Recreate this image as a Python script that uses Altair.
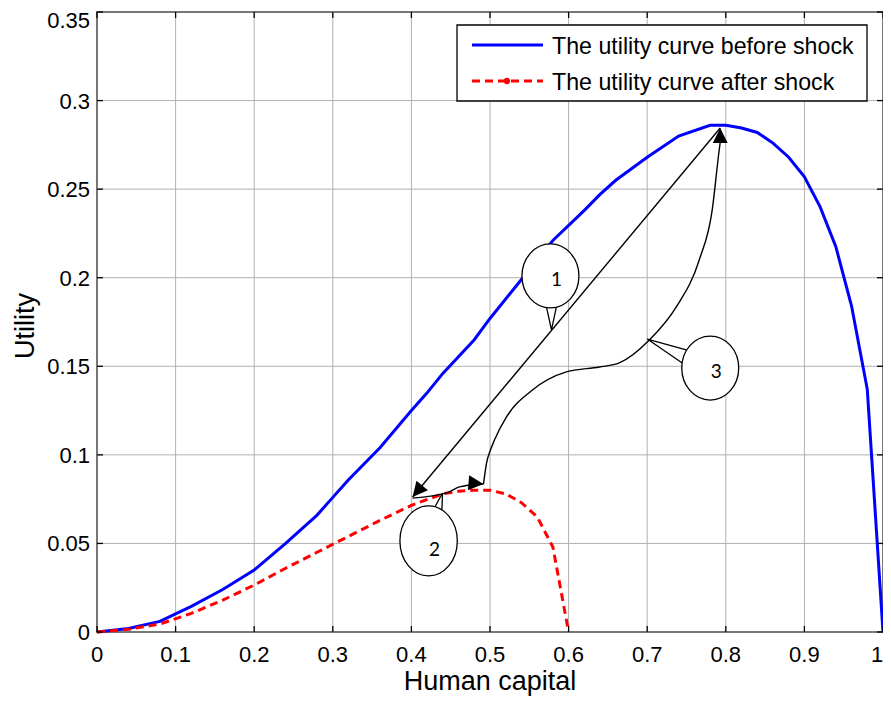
import altair as alt
import pandas as pd

# ---------------- data ----------------
blue_x = [0.0, 0.04, 0.08, 0.12, 0.16, 0.20, 0.24, 0.28, 0.30, 0.32, 0.36, 0.40, 0.42, 0.44, 0.48,
          0.50, 0.54, 0.58, 0.62, 0.64, 0.66, 0.70, 0.74, 0.78, 0.80, 0.82, 0.84, 0.86, 0.88, 0.90,
          0.92, 0.94, 0.96, 0.98, 1.00]
blue_y = [0.0, 0.002, 0.006, 0.0145, 0.024, 0.035, 0.050, 0.066, 0.076, 0.086, 0.104, 0.125, 0.135,
          0.146, 0.165, 0.177, 0.199, 0.221, 0.238, 0.247, 0.255, 0.268, 0.280, 0.286, 0.286, 0.2845,
          0.282, 0.276, 0.268, 0.257, 0.240, 0.2175, 0.184, 0.137, 0.0]

red_x = [0.0, 0.04, 0.08, 0.12, 0.16, 0.20, 0.24, 0.28, 0.32, 0.36, 0.40, 0.44, 0.46, 0.48, 0.50,
         0.52, 0.54, 0.56, 0.58, 0.60]
red_y = [0.0, 0.0015, 0.0045, 0.0105, 0.018, 0.0265, 0.036, 0.045, 0.054, 0.063, 0.0715, 0.078,
         0.0795, 0.080, 0.080, 0.078, 0.073, 0.065, 0.048, 0.0]

x_ticks = [0, 0.1, 0.2, 0.3, 0.4, 0.5, 0.6, 0.7, 0.8, 0.9, 1.0]
x_tick_labels = ["0", "0.1", "0.2", "0.3", "0.4", "0.5", "0.6", "0.7", "0.8", "0.9", "1"]
y_ticks = [0, 0.05, 0.1, 0.15, 0.2, 0.25, 0.3, 0.35]
y_tick_labels = ["0", "0.05", "0.1", "0.15", "0.2", "0.25", "0.3", "0.35"]

legend_labels = ["The utility curve before shock", "The utility curve after shock"]
x_title = "Human capital"
y_title = "Utility"

# annotation paths (data coordinates)
arrow1_x = [0.4015, 0.7929]
arrow1_y = [0.0762, 0.2845]
curve2_x = [0.4015, 0.4447, 0.4612, 0.4740, 0.4917]
curve2_y = [0.0756, 0.0785, 0.0819, 0.0830, 0.0835]
curve3_x = [0.4917, 0.4956, 0.5006, 0.5057, 0.5210, 0.5540, 0.5972, 0.6391, 0.6645, 0.7027,
            0.7370, 0.7662, 0.7827, 0.7916, 0.7942]
curve3_y = [0.0835, 0.0954, 0.1027, 0.1084, 0.1214, 0.1366, 0.1468, 0.1496, 0.1519, 0.1648,
            0.1835, 0.2100, 0.2382, 0.2721, 0.2806]

head_x = [0.7929, 0.4015, 0.4917]
head_y = [0.2845, 0.0762, 0.0835]
head_angle = [0, 220, 95]

callout_text = ["1", "2", "3"]
callout_cx = [0.5769, 0.4219, 0.7802]
callout_cy = [0.2010, 0.0514, 0.1490]
callout_tx = [0.5845, 0.4295, 0.7878]
callout_ty = [0.1987, 0.0463, 0.1468]
tail_x = [[0.5718, 0.5782, 0.5845], [0.4257, 0.4396, 0.4384], [0.7497, 0.7001, 0.7446]]
tail_y = [[0.1835, 0.1705, 0.1835], [0.0672, 0.0785, 0.0644], [0.1592, 0.1654, 0.1519]]

# ---------------- tables ----------------
blue_df = pd.DataFrame({"x": blue_x, "y": blue_y, "i": range(len(blue_x))})
red_df = pd.DataFrame({"x": red_x, "y": red_y, "i": range(len(red_x))})

straight_df = pd.DataFrame({"id": "a1", "i": range(len(arrow1_x)), "x": arrow1_x, "y": arrow1_y})
rows = []
for name, xs_, ys_ in [("c2", curve2_x, curve2_y), ("c3", curve3_x, curve3_y)]:
    for k, (a, b) in enumerate(zip(xs_, ys_)):
        rows.append({"id": name, "i": k, "x": a, "y": b})
curved_df = pd.DataFrame(rows)

head_df = pd.DataFrame({"x": head_x, "y": head_y, "ang": head_angle})

tail_rows = []
for t, (txs, tys) in enumerate(zip(tail_x, tail_y)):
    for k, (a, b) in enumerate(zip(txs, tys)):
        tail_rows.append({"id": t, "i": k, "x": a, "y": b})
tail_df = pd.DataFrame(tail_rows)

call_df = pd.DataFrame({"cx": callout_cx, "cy": callout_cy, "tx": callout_tx, "ty": callout_ty,
                        "t": callout_text, "big": [0, 1, 0]})

xt_df = pd.DataFrame({"v": x_ticks, "lab": x_tick_labels})
yt_df = pd.DataFrame({"v": y_ticks, "lab": y_tick_labels})

W, H = 786, 620
FONT = "Liberation Sans"
GRID = "#b0b0b0"

xs = alt.Scale(domain=[0, 1], nice=False, zero=False)
ys = alt.Scale(domain=[0, 0.35], nice=False, zero=False)

X = lambda f: alt.X(f, scale=xs, axis=None)
Y = lambda f: alt.Y(f, scale=ys, axis=None)

# grid
grid_x = alt.Chart(xt_df).mark_rule(color=GRID, strokeWidth=1).encode(
    x=X("v:Q"), y=alt.value(0), y2=alt.value(H))
grid_y = alt.Chart(yt_df).mark_rule(color=GRID, strokeWidth=1).encode(
    y=Y("v:Q"), x=alt.value(0), x2=alt.value(W))

# tick labels (placed through the scales)
xlab = alt.Chart(xt_df).transform_filter("datum.v < 0.99").mark_text(
    font=FONT, fontSize=22, color="black", align="center", baseline="alphabetic").encode(
    x=X("v:Q"), y=alt.value(H + 30), text="lab:N")
xlab_end = alt.Chart(xt_df).transform_filter("datum.v > 0.99").mark_text(
    font=FONT, fontSize=22, color="black", align="center", baseline="alphabetic", dx=-6).encode(
    x=X("v:Q"), y=alt.value(H + 30), text="lab:N")
ylab = alt.Chart(yt_df).transform_filter("datum.v < 0.34").mark_text(
    font=FONT, fontSize=22, color="black", align="right", baseline="alphabetic", dy=8).encode(
    y=Y("v:Q"), x=alt.value(-7), text="lab:N")
ylab_top = alt.Chart(yt_df).transform_filter("datum.v > 0.34").mark_text(
    font=FONT, fontSize=22, color="black", align="right", baseline="alphabetic", dy=16).encode(
    y=Y("v:Q"), x=alt.value(-7), text="lab:N")

one = pd.DataFrame({"k": [0]})
xtitle = alt.Chart(one).mark_text(font=FONT, fontSize=27, color="black", align="center",
                                  baseline="alphabetic", text=x_title).encode(
    x=alt.value(W / 2), y=alt.value(H + 58))
ytitle = alt.Chart(one).mark_text(font=FONT, fontSize=27, color="black", align="center",
                                  baseline="alphabetic", angle=270, text=y_title).encode(
    x=alt.value(-63), y=alt.value(H / 2 + 4))

blue = alt.Chart(blue_df).mark_line(color="#0000ff", strokeWidth=3).encode(
    x=X("x:Q"), y=Y("y:Q"), order="i:Q")
red = alt.Chart(red_df).mark_line(color="#ff0000", strokeWidth=3, strokeDash=[8, 5]).encode(
    x=X("x:Q"), y=Y("y:Q"), order="i:Q")

straight = alt.Chart(straight_df).mark_line(color="black", strokeWidth=1.4).encode(
    x=X("x:Q"), y=Y("y:Q"), detail="id:N", order="i:Q")
curved = alt.Chart(curved_df).mark_line(color="black", strokeWidth=1.4, interpolate="monotone").encode(
    x=X("x:Q"), y=Y("y:Q"), detail="id:N", order="i:Q")

heads = alt.Chart(head_df).mark_point(
    shape="M0,0L-0.5,1L0.5,1Z", filled=True, color="black", opacity=1, size=900, strokeWidth=0
).encode(x=X("x:Q"), y=Y("y:Q"), angle=alt.Angle("ang:Q", scale=None))

tails = alt.Chart(tail_df).mark_line(color="black", strokeWidth=1.3).encode(
    x=X("x:Q"), y=Y("y:Q"), detail="id:N", order="i:Q")

ell_small = alt.Chart(call_df).transform_filter("datum.big == 0").mark_point(
    shape="M-0.89,0A0.89,1,0,1,1,0.89,0A0.89,1,0,1,1,-0.89,0Z",
    filled=False, fill="white", fillOpacity=1, stroke="black", strokeWidth=1.3, opacity=1, size=4096
).encode(x=X("cx:Q"), y=Y("cy:Q"))
ell_big = alt.Chart(call_df).transform_filter("datum.big == 1").mark_point(
    shape="M-0.82,0A0.82,1,0,1,1,0.82,0A0.82,1,0,1,1,-0.82,0Z",
    filled=False, fill="white", fillOpacity=1, stroke="black", strokeWidth=1.3, opacity=1, size=4900
).encode(x=X("cx:Q"), y=Y("cy:Q"))
call_txt = alt.Chart(call_df).mark_text(font="Lato", fontSize=19, color="black",
                                        baseline="middle", align="center").encode(
    x=X("tx:Q"), y=Y("ty:Q"), text="t:N")

# inward ticks on all four sides
tick_b = alt.Chart(xt_df).mark_rule(color="black", strokeWidth=1.3).encode(
    x=X("v:Q"), y=alt.value(H), y2=alt.value(H - 6))
tick_t = alt.Chart(xt_df).mark_rule(color="black", strokeWidth=1.3).encode(
    x=X("v:Q"), y=alt.value(0), y2=alt.value(6))
tick_l = alt.Chart(yt_df).mark_rule(color="black", strokeWidth=1.3).encode(
    y=Y("v:Q"), x=alt.value(0), x2=alt.value(6))
tick_r = alt.Chart(yt_df).mark_rule(color="black", strokeWidth=1.3).encode(
    y=Y("v:Q"), x=alt.value(W), x2=alt.value(W - 6))

# legend (drawn by hand)
leg_box = alt.Chart(one).mark_rect(fill="white", stroke="black", strokeWidth=1.3).encode(
    x=alt.value(360), x2=alt.value(770), y=alt.value(13), y2=alt.value(89))
leg_blue = alt.Chart(one).mark_rule(color="#0000ff", strokeWidth=3).encode(
    x=alt.value(375), x2=alt.value(446), y=alt.value(33))
leg_red = alt.Chart(one).mark_rule(color="#ff0000", strokeWidth=3, strokeDash=[8, 5]).encode(
    x=alt.value(375), x2=alt.value(446), y=alt.value(69))
leg_dot = alt.Chart(one).mark_point(color="#ff0000", filled=True, size=40, opacity=1).encode(
    x=alt.value(410), y=alt.value(69))
leg_t1 = alt.Chart(one).mark_text(font=FONT, fontSize=23.2, align="left", baseline="middle",
                                  color="black", text=legend_labels[0]).encode(
    x=alt.value(455), y=alt.value(35))
leg_t2 = alt.Chart(one).mark_text(font=FONT, fontSize=23.2, align="left", baseline="middle",
                                  color="black", text=legend_labels[1]).encode(
    x=alt.value(455), y=alt.value(71))

chart = alt.layer(
    grid_x, grid_y, blue, red, straight, curved, heads, tails, ell_small, ell_big, call_txt,
    tick_b, tick_t, tick_l, tick_r,
    leg_box, leg_blue, leg_red, leg_dot, leg_t1, leg_t2,
    xlab, xlab_end, ylab, ylab_top, xtitle, ytitle,
).properties(
    width=W, height=H,
    autosize=alt.AutoSizeParams(type="none"),
    padding={"left": 89, "top": 4, "right": 0, "bottom": 64},
    background="white",
).configure_view(stroke="black", strokeWidth=1.5)

chart.save("out.html", embed_options={"renderer": "svg", "actions": False})
